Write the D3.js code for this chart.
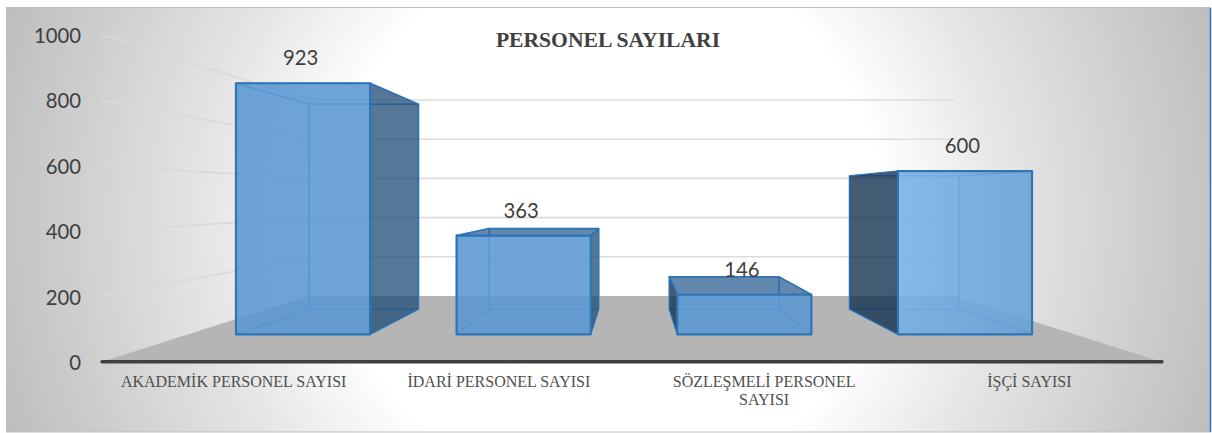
<!DOCTYPE html>
<html><head><meta charset="utf-8">
<script src="https://cdn.jsdelivr.net/npm/d3@7"></script>
<style>html,body{margin:0;padding:0;background:#fff}svg{display:block}</style>
</head><body><svg id="c" width="1212" height="433"></svg>
<script>
const categories = ["AKADEMİK PERSONEL SAYISI","İDARİ PERSONEL SAYISI","SÖZLEŞMELİ PERSONEL\nSAYISI","İŞÇİ SAYISI"];
const values = [923,363,146,600];
const yTicks = [0,200,400,600,800,1000];
const titleText = "PERSONEL SAYILARI";

const svg = d3.select("#c");
const defs = svg.append("defs");
const bg = defs.append("radialGradient").attr("id","bg").attr("gradientUnits","userSpaceOnUse")
  .attr("cx",608).attr("cy",220).attr("r",640);
[[0,"#fff"],[.43,"#fff"],[.62,"#e6e6e6"],[1,"#bdbdbd"]].forEach(d=>bg.append("stop").attr("offset",d[0]).attr("stop-color",d[1]));
const g4 = defs.append("linearGradient").attr("id","bar4");
[[0,"#76b0e6"],[1,"#659fd8"]].forEach(d=>g4.append("stop").attr("offset",d[0]).attr("stop-color",d[1]));

svg.append("rect").attr("x",6.5).attr("y",7.5).attr("width",1204).attr("height",424.5)
  .attr("fill","url(#bg)").attr("stroke","#bfbfbf");
svg.append("line").attr("x1",1210.5).attr("x2",1210.5).attr("y1",8).attr("y2",432).attr("stroke","#2e75b6").attr("stroke-width",1.5);

// perspective
const cx=631.5, barCx=634, sFront=.327, sBack=.196, sBarF=.272, sBarB=.2221;
const H=66/(sFront-sBack), yv=362-H*sFront;
const worldX=530.5/sFront, backHalf=322.5;
const y0=s=>yv+H*s;
const P=(X,v,s)=>[barCx+X*s, y0(s)-v*s];

const xBand=d3.scaleBand().domain(categories).range([-worldX,worldX]).paddingInner(.392).paddingOuter(.196);
const xLabel=d3.scaleBand().domain(categories).range([101,1162]);
const yFront=d3.scaleLinear().domain([0,1000]).range([362,35]);
const yBack=d3.scaleLinear().domain([0,1000]).range([296,100]);

// floor
svg.append("polygon").attr("fill","#b5b5b5")
  .attr("points",[[cx-530.5,362],[cx+530.5,362],[cx+backHalf,296],[cx-backHalf,296]].join(" "));

// gridlines
const grid=yTicks.filter(d=>d>0);
svg.append("g").selectAll("line").data(grid).join("line")
  .attr("x1",cx-backHalf).attr("x2",cx+backHalf).attr("y1",yBack).attr("y2",yBack)
  .attr("stroke","#dcdcdc").attr("stroke-width",1.6);
svg.append("g").selectAll("line").data(grid).join("line")
  .attr("x1",102).attr("x2",cx-backHalf).attr("y1",yFront).attr("y2",yBack)
  .attr("stroke","#d9d9d9").attr("stroke-width",1.6);

// axis line
svg.append("line").attr("x1",102).attr("x2",1162).attr("y1",361.7).attr("y2",361.7)
  .attr("stroke","#404040").attr("stroke-width",3.4).attr("stroke-linecap","round");

// y axis
const ax=svg.append("g").attr("transform","translate(92,1)")
  .call(d3.axisLeft(yFront).tickValues(yTicks).tickFormat(d3.format("d")).tickSize(0).tickPadding(11));
ax.select(".domain").remove();
ax.selectAll("text").attr("font-family","Lato").attr("font-size",20.3).attr("fill","#404040");

// bars
const line=d3.line();
const edge="#2e75b6", inner="rgba(72,145,215,.75)";
categories.forEach((c,i)=>{
  const v=values[i], xa=xBand(c), xb=xa+xBand.bandwidth();
  const fbl=P(xa,0,sBarF), fbr=P(xb,0,sBarF), ftl=P(xa,v,sBarF), ftr=P(xb,v,sBarF);
  const bbl=P(xa,0,sBarB), bbr=P(xb,0,sBarB), btl=P(xa,v,sBarB), btr=P(xb,v,sBarB);
  const g=svg.append("g");
  const face=(pts,fill,stroke,w)=>g.append("path").attr("d",line(pts)+"Z").attr("fill",fill)
    .attr("stroke",stroke).attr("stroke-width",w).attr("stroke-linejoin","round");
  // hidden edges
  face([bbl,bbr,btr,btl],"none",inner,1.4);
  face([fbl,fbr,bbr,bbl],"none",inner,1.4);
  face([fbl,ftl,btl,bbl],"none",inner,1.4);
  face([fbr,ftr,btr,bbr],"none",inner,1.4);
  face([ftl,ftr,btr,btl],"none",inner,1.4);
  // visible faces
  if(btl[0]<ftl[0]) face([fbl,ftl,btl,bbl],"rgba(20,50,80,.8)",edge,1);
  if(btr[0]>ftr[0]) face([fbr,ftr,btr,bbr],"rgba(31,78,121,.76)",edge,1);
  if(btl[1]<ftl[1]) face([ftl,ftr,btr,btl],"rgba(38,90,145,.72)",edge,1.2);
  face([fbl,fbr,ftr,ftl], i===3?"url(#bar4)":"rgb(88,150,210)",edge,2.2).attr("fill-opacity",.87);
  // data label
  svg.append("text").datum(v).attr("x",cx+(xa+xb)/2*.272).attr("y",ftl[1]-18)
    .attr("text-anchor","middle").attr("font-family","Lato").attr("font-size",20.3)
    .attr("fill","#404040").text(v);
});

// category labels
categories.forEach(c=>{
  const t=svg.append("text").attr("text-anchor","middle").attr("font-family","Liberation Serif")
    .attr("font-size",16).attr("fill","#505050");
  c.split("\n").forEach((s,j)=>t.append("tspan").attr("x",xLabel(c)+xLabel.bandwidth()/2).attr("y",387+j*18).text(s));
});

// title
svg.append("text").attr("x",608).attr("y",46.5).attr("text-anchor","middle")
  .attr("font-family","Liberation Serif").attr("font-weight","bold").attr("font-size",21.6)
  .attr("fill","#404040").text(titleText);
</script></body></html>
